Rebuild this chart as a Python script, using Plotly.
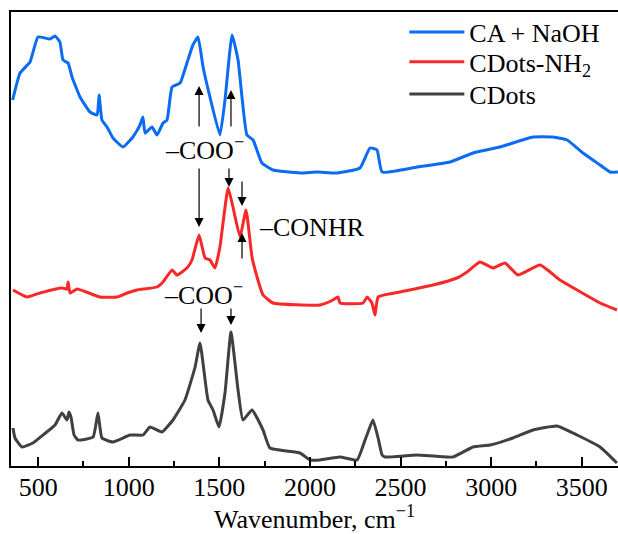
import plotly.graph_objects as go

# ---- data (wavenumber, cm^-1 ; intensity, arbitrary units, spectra offset) ----
ca_wn = [359, 400, 455, 499, 565, 593, 620, 637, 665, 687, 731, 786, 825, 836, 852, 880, 913, 968,
         1023, 1062, 1078, 1090, 1128, 1156, 1189, 1211, 1239, 1283, 1321, 1354, 1382, 1410, 1448,
         1503, 1531, 1570, 1603, 1652, 1686, 1735, 1796, 1945, 2039, 2149, 2276, 2331, 2370, 2398,
         2591, 2773, 2900, 3049, 3231, 3341, 3419, 3507, 3601, 3656, 3700]
ca_int = [366, 393, 404, 429, 427, 430, 424, 406, 403, 389, 369, 354, 351, 371, 346, 339, 328, 319,
          329, 341, 349, 333, 339, 331, 343, 346, 379, 383, 403, 421, 429, 399, 369,
          331, 366, 431, 406, 331, 326, 303, 296, 293, 294, 293, 298, 318, 316, 294,
          299, 304, 313, 319, 329, 329, 326, 313, 301, 294, 294]

nh2_wn = [361, 438, 510, 631, 659, 665, 676, 714, 841, 935, 990, 1045, 1156, 1189, 1239, 1266,
          1321, 1349, 1388, 1421, 1448, 1476, 1503, 1548, 1575, 1614, 1647, 1680, 1708, 1741,
          1796, 2055, 2127, 2155, 2166, 2293, 2315, 2342, 2359, 2376, 2497, 2679, 2811, 2867,
          2938, 3010, 3076, 3148, 3270, 3380, 3474, 3601, 3694]
nh2_int = [176, 169, 173, 178, 177, 184, 173, 177, 169, 169, 173, 176, 179, 184, 196, 191,
           198, 206, 231, 208, 206, 198, 219, 278, 259, 229, 256, 209, 189, 171,
           163, 161, 166, 169, 163, 163, 169, 163, 151, 169, 174, 181, 188, 194,
           204, 198, 203, 191, 201, 186, 176, 163, 156]

cd_wn = [361, 372, 411, 471, 527, 593, 631, 659, 670, 682, 698, 720, 803, 830, 852, 913, 1007,
         1079, 1117, 1183, 1244, 1310, 1366, 1393, 1437, 1465, 1498, 1531, 1564, 1603, 1630,
         1680, 1741, 1779, 1945, 2000, 2055, 2166, 2260, 2304, 2331, 2348, 2376, 2398, 2414,
         2591, 2789, 2900, 2994, 3120, 3231, 3363, 3474, 3601, 3694]
cd_int = [38, 28, 19, 23, 31, 41, 53, 46, 54, 48, 31, 26, 29, 53, 28, 24, 31,
          31, 39, 34, 46, 66, 99, 123, 66, 56, 39, 73, 134, 76, 46,
          56, 36, 18, 13, 6, 6, 9, 6, 26, 39, 46, 28, 11, 9,
          11, 9, 19, 21, 28, 36, 40, 31, 19, 3]

series_names = ["CA + NaOH", "CDots-NH<sub>2</sub>", "CDots"]
series_colors = ["#0a6cf2", "#f82828", "#404040"]
legend_ids = ["legend", "legend2", "legend3"]

x_ticks = [500, 1000, 1500, 2000, 2500, 3000, 3500]

FONT = '"Liberation Serif", "Times New Roman", Times, serif'
FS = 26

fig = go.Figure()
for wn, inten, name, col, lg in zip([ca_wn, nh2_wn, cd_wn], [ca_int, nh2_int, cd_int],
                                    series_names, series_colors, legend_ids):
    fig.add_trace(go.Scatter(x=wn, y=inten, mode="lines", name=name, legend=lg,
                             line=dict(color=col, width=3, shape="spline", smoothing=0.4)))

# arrows (tip x,y ; tail ax,ay) in data coordinates
arrows = [
    (1388, 380, 1388, 338), (1564, 376, 1564, 338),
    (1388, 239, 1388, 299), (1553, 279, 1553, 299),
    (1625, 260, 1625, 286), (1625, 233, 1625, 206),
    (1399, 133, 1399, 159), (1564, 141, 1564, 159),
]
for x, y, ax, ay in arrows:
    fig.add_annotation(x=x, y=y, ax=ax, ay=ay, xref="x", yref="y", axref="x", ayref="y",
                       text="", showarrow=True, arrowhead=2, arrowsize=1.5,
                       arrowwidth=1.2, arrowcolor="black")

labels = [
    (1418, 318, "–COO<sup>−</sup>", "center"),
    (1415, 173, "–COO<sup>−</sup>", "center"),
    (1706, 239, "–CONHR", "left"),
]
for x, y, t, anc in labels:
    fig.add_annotation(x=x, y=y, xref="x", yref="y", text=t, showarrow=False,
                       xanchor=anc, yanchor="middle",
                       font=dict(family=FONT, size=FS, color="black"))

legend_common = dict(x=0.648, xanchor="left", yanchor="middle",
                     bgcolor="rgba(0,0,0,0)", itemwidth=55,
                     font=dict(family=FONT, size=FS))
fig.update_layout(
    width=618, height=534,
    margin=dict(l=11, r=0, t=12, b=68),
    paper_bgcolor="white", plot_bgcolor="white",
    font=dict(family=FONT, size=FS, color="black"),
    showlegend=True,
    legend=dict(y=0.956, **legend_common),
    legend2=dict(y=0.890, **legend_common),
    legend3=dict(y=0.819, **legend_common),
)
fig.update_xaxes(
    range=[350, 3700], tickvals=x_ticks, ticktext=[str(v) for v in x_ticks],
    ticks="inside", ticklen=9, tickwidth=1.5, tickcolor="black",
    minor=dict(dtick=250, tick0=0, ticks="inside", ticklen=5, tickwidth=1.5, tickcolor="black"),
    showline=True, linecolor="black", linewidth=2, mirror=True,
    showgrid=False, zeroline=False, ticklabelstandoff=-3,
    title=dict(text="Wavenumber, cm<sup>−1</sup>", standoff=3, font=dict(family=FONT, size=FS)),
    tickfont=dict(family=FONT, size=FS),
)
fig.update_yaxes(
    range=[0, 454], showticklabels=False, ticks="",
    showline=True, linecolor="black", linewidth=2, mirror=False,
    showgrid=False, zeroline=False,
)

fig.write_html("out.html", config={"displayModeBar": False},
               post_script="document.body.style.margin='0';")
